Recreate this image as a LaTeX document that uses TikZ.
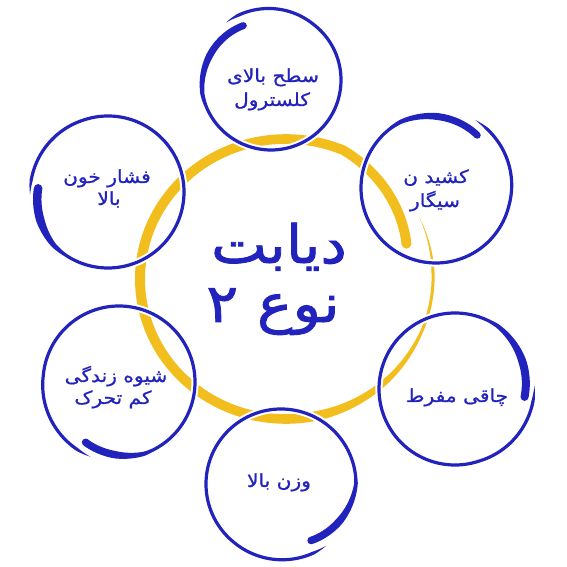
\documentclass[tikz,border=0pt]{standalone}
\usepackage{fontspec}
\newfontfamily\fa[Script=Arabic,FakeStretch=1.12,FakeBold=0.9]{DejaVu Sans}
\newfontfamily\fabig[Script=Arabic,FakeStretch=1.12,FakeBold=1.6]{DejaVu Sans}
\TeXXeTstate=1
\definecolor{hdblue}{HTML}{2222BC}
\definecolor{hdyellow}{HTML}{F2BE1E}
% radius and width profiles of a hand-drawn spiral stroke
\pgfmathdeclarefunction{hdr}{1}{\pgfmathparse{\hdR-\hdD*max(0,1-#1/\hdTa)+\hdE*max(0,(#1-\hdTb)/(1-\hdTb))}}
\pgfmathdeclarefunction{hdw}{1}{\pgfmathparse{(\hdWmin+(\hdWmax-\hdWmin)*min(1,max(0,(\hdB-#1)/(\hdB-\hdA))))*min(1,(1-#1)/\hdTe)}}
\newcommand\hdfill[1]{%
  \fill[#1] plot[domain=0:1,samples=\hdN,variable=\t]
    ({\hdX+(hdr(\t)+0.5*hdw(\t))*cos(\hdTh+\hdS*\t)},{\hdY+\hdYs*(hdr(\t)+0.5*hdw(\t))*sin(\hdTh+\hdS*\t)})
    -- plot[domain=1:0,samples=\hdN,variable=\t]
    ({\hdX+(hdr(\t)-0.5*hdw(\t))*cos(\hdTh+\hdS*\t)},{\hdY+\hdYs*(hdr(\t)-0.5*hdw(\t))*sin(\hdTh+\hdS*\t)})
    -- cycle;}
% #1 cx #2 cy #3 R #4 start angle #5 sweep #6 inward offset #7 outward offset #8 max width #9 colour
\newcommand\hd[9]{%
  \def\hdX{#1}\def\hdY{#2}\def\hdR{#3}\def\hdTh{#4}\def\hdS{#5}\def\hdD{#6}\def\hdE{#7}\def\hdWmax{#8}%
  \pgfmathsetmacro\hdWo{hdw(0)}%
  \pgfmathsetmacro\hdCx{\hdX+hdr(0)*cos(\hdTh)}%
  \pgfmathsetmacro\hdCy{\hdY+\hdYs*hdr(0)*sin(\hdTh)}%
  \ifdim\hdHalo pt>0pt
    \hdfill{white,draw=white,line width=\hdHalo}%
    \fill[white] (\hdCx,\hdCy) circle[radius=\hdWo/2+\hdHalo/2];
  \fi
  \hdfill{#9}%
  \fill[#9] (\hdCx,\hdCy) circle[radius=\hdWo/2];
}
\def\hdN{260}\def\hdTe{0.04}\def\hdYs{1}\def\hdHalo{0}
\begin{document}
\begin{tikzpicture}[x=1pt,y=1pt,
  txt/.style={font=\fa\fontsize{18}{21}\selectfont, text=hdblue, inner sep=0pt, anchor=base},
  big/.style={font=\fabig\fontsize{53}{58}\selectfont, text=hdblue, inner sep=0pt, anchor=base}]
\fill[white] (0,0) rectangle (567,567);
\useasboundingbox (0,0) rectangle (567,567);
% yellow ring
\def\hdYs{0.959}\def\hdTa{0.135}\def\hdTb{0.85}\def\hdWmin{3}\def\hdA{0.72}\def\hdB{0.87}\def\hdTe{0.06}\def\hdHalo{0}
\hd{286}{288}{146}{17}{369}{20}{2}{10}{hdyellow}
% blue circles
\def\hdYs{1}\def\hdTb{0.8}\def\hdWmin{3.2}\def\hdTe{0.03}\def\hdHalo{4}
\def\hdTa{0.2}\def\hdA{0.11}\def\hdB{0.23}
\hd{271}{487}{70}{117}{371}{9}{3}{7}{hdblue}
\def\hdTa{0.18}\def\hdA{0.1}\def\hdB{0.21}
\hd{436}{379}{75}{52}{368}{8}{3.5}{7}{hdblue}
\def\hdTa{0.17}\def\hdA{0.08}\def\hdB{0.19}
\hd{455}{178}{76}{-6.5}{369}{6}{3.5}{8}{hdblue}
\def\hdTa{0.17}\def\hdA{0.08}\def\hdB{0.18}
\hd{281}{83}{75}{-62}{368}{11}{1.5}{7.5}{hdblue}
\def\hdTa{0.13}\def\hdA{0.07}\def\hdB{0.15}
\hd{119}{185}{76}{-119}{368}{7}{4}{7.5}{hdblue}
\def\hdTa{0.13}\def\hdA{0.07}\def\hdB{0.16}
\hd{108}{375}{76}{177}{365}{6}{2}{8.5}{hdblue}
% texts
\node[big] (c1) at (279,304) {\beginR دیابت\endR};
\node[big] (c2) at (273,245) {\beginR نوع ۲\endR};
\node[txt] (t1a) at (273,485) {\beginR سطح بالای\endR};
\node[txt] (t1b) at (272,461) {\beginR کلسترول\endR};
\node[txt] (t2a) at (436,384) {\beginR کشید ن\endR};
\node[txt] (t2b) at (435,360) {\beginR سیگار\endR};
\node[txt] (t3) at (457,165) {\beginR چاقی مفرط\endR};
\node[txt] (t4) at (279,80) {\beginR وزن بالا\endR};
\node[txt] (t5a) at (116,185) {\beginR شیوه زندگی\endR};
\node[txt] (t5b) at (113,163) {\beginR کم تحرک\endR};
\node[txt] (t6a) at (107,384) {\beginR فشار خون\endR};
\node[txt] (t6b) at (109,362) {\beginR بالا\endR};
\end{tikzpicture}
\end{document}
